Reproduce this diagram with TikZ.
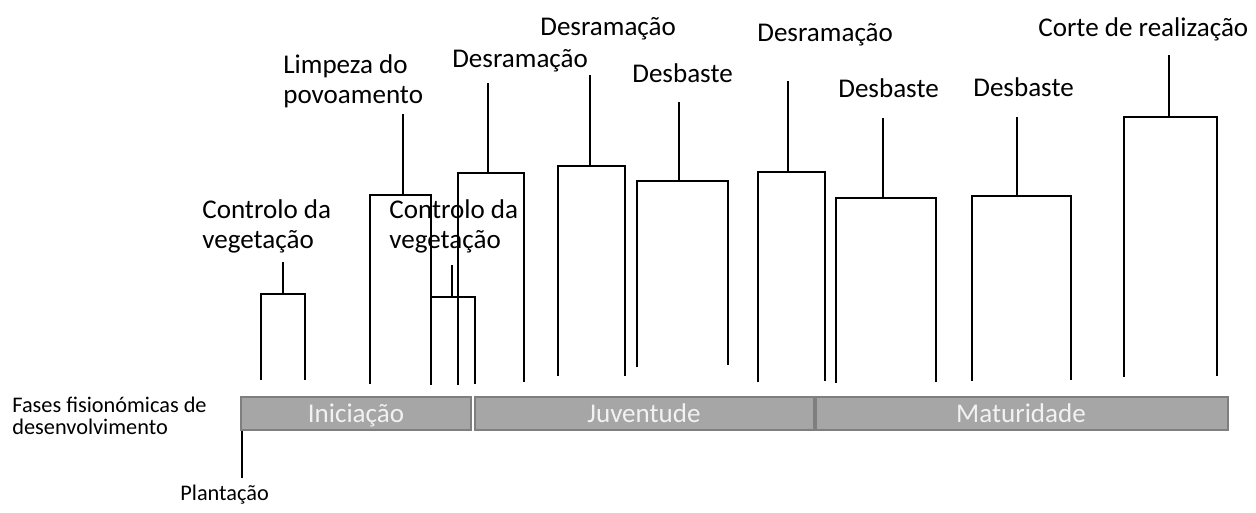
\documentclass[tikz,border=0pt]{standalone}
\usepackage{fontspec}
\setmainfont{Carlito}
\usetikzlibrary{positioning,calc}
\definecolor{barfill}{HTML}{A6A6A6}
\definecolor{bardraw}{HTML}{7F7F7F}
\definecolor{bartext}{HTML}{F2F2F2}

\begin{document}
\begin{tikzpicture}[
  x=0.02cm, y=-0.02cm,
  op/.style={anchor=base west, inner sep=0pt, align=left,
    font=\fontsize{15.4}{16.8}\selectfont},
  small/.style={anchor=base west, inner sep=0pt, align=left,
    font=\fontsize{12.7}{12.5}\selectfont},
  leg/.style={line width=0.6pt, draw=black},
  phase/.style={draw=bardraw, fill=barfill, line width=0.9pt},
  phasetext/.style={anchor=base, inner sep=0pt, text=bartext,
    font=\fontsize{15.4}{17}\selectfont},
]
\useasboundingbox (0,0) rectangle (1256,512);

% operations (labels)
\node[op] (cv1)  at (202,248)  {Controlo da\\vegetação};
\node[op] (limp) at (283,103)  {Limpeza do\\povoamento};
\node[op] (cv2)  at (389,248)  {Controlo da\\vegetação};
\node[op] (des1) at (452,67)   {Desramação};
\node[op] (des2) at (540,35)   {Desramação};
\node[op] (dbs1) at (632,82)   {Desbaste};
\node[op] (des3) at (757,41)   {Desramação};
\node[op] (dbs2) at (838,97)   {Desbaste};
\node[op] (dbs3) at (973,96)   {Desbaste};
\node[op] (corte) at (1038,36) {Corte de realização};

% brackets
\draw[leg] (261,380) |- (283,294) coordinate (t1) -| (305,380);
\draw[leg] (370,384) |- (403,195) coordinate (t2) -| (431,385);
\draw[leg] (431,385) |- (452,297) coordinate (t3) -| (475,384);
\draw[leg] (458,385) |- (488,173) coordinate (t4) -| (524,382);
\draw[leg] (558,376) |- (590,166) coordinate (t5) -| (625,376);
\draw[leg] (637,367) |- (679,181) coordinate (t6) -| (728,365);
\draw[leg] (758,382) |- (788,172) coordinate (t7) -| (825,381);
\draw[leg] (836,383) |- (883,198) coordinate (t8) -| (936,382);
\draw[leg] (972,381) |- (1017,196) coordinate (t9) -| (1071,380);
\draw[leg] (1124,377) |- (1169,117) coordinate (t10) -| (1217,376);

% stems
\coordinate (s1) at (283,262);
\coordinate (s2) at (403,114);
\coordinate (s3) at (452,265);
\coordinate (s4) at (488,83);
\coordinate (s5) at (590,75);
\coordinate (s6) at (679,102);
\coordinate (s7) at (788,81);
\coordinate (s8) at (883,118);
\coordinate (s9) at (1017,117);
\coordinate (s10) at (1169,55);
\draw[leg] (t1) -- (s1);
\draw[leg] (t2) -- (s2);
\draw[leg] (t3) -- (s3);
\draw[leg] (t4) -- (s4);
\draw[leg] (t5) -- (s5);
\draw[leg] (t6) -- (s6);
\draw[leg] (t7) -- (s7);
\draw[leg] (t8) -- (s8);
\draw[leg] (t9) -- (s9);
\draw[leg] (t10) -- (s10);

% phases bar
\draw[phase] (241,397) rectangle (471,430);
\draw[phase] (475,397) rectangle (814,430);
\draw[phase] (816,397) rectangle (1228,430);
\node[phasetext] (inic) at (356,422) {Iniciação};
\node[phasetext] (juv)  at (644,422) {Juventude};
\node[phasetext] (mat)  at (1021,422) {Maturidade};

\node[small] (fases) at (12,434) {Fases fisionómicas de\\desenvolvimento};

% planting
\coordinate (p0) at (242,431);
\coordinate (p1) at (242,478);
\draw[leg] (p0) -- (p1);
\node[small] (plant) at (180,500) {Plantação};
\end{tikzpicture}
\end{document}
